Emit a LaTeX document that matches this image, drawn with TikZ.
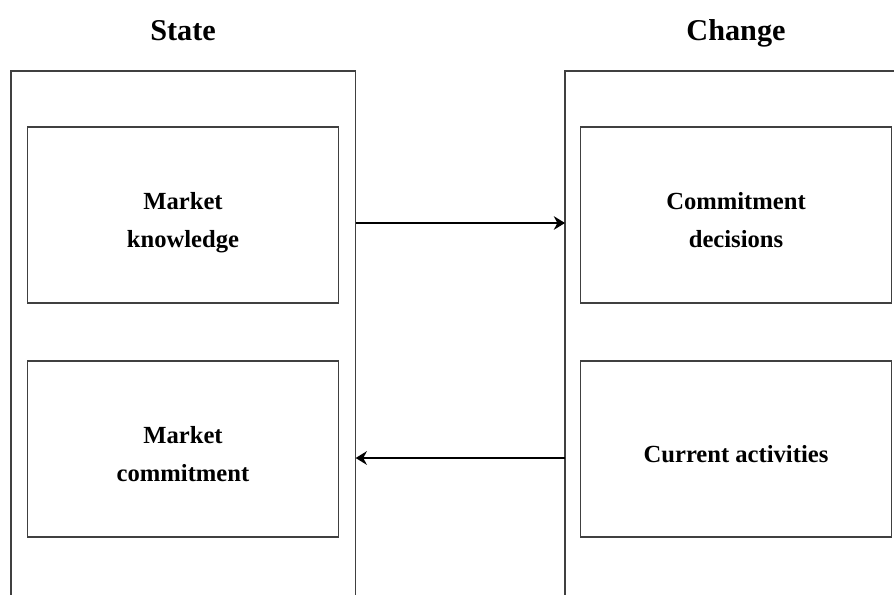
\documentclass[tikz,border=0pt]{standalone}
\usepackage{fontspec}
\setmainfont{Liberation Serif}
\usepackage{tikz}
\usetikzlibrary{arrows.meta,calc,positioning}
\tikzset{
  frame/.style={draw=none, minimum width=8.6cm, minimum height=15cm, inner sep=0pt},
  block/.style={draw=black!75, line width=0.9pt, fill=white, minimum width=7.775cm, minimum height=4.4cm, align=center, font=\fontsize{17.5}{27}\selectfont\bfseries},
  heading/.style={anchor=base, font=\fontsize{21.5}{26}\selectfont\bfseries},
  edge/.style={draw=black!75, line width=0.9pt},
  flow/.style={-{Stealth[length=2.8mm, width=3.4mm, inset=0.9mm]}, line width=1.4pt, black}
}
% text sits a little below the middle of each block
\newcommand{\blocktext}[1]{\raisebox{0pt}[\dimexpr\height+0.3cm\relax][\depth]{\begin{tabular}{@{}c@{}}#1\end{tabular}}}

\begin{document}
\begin{tikzpicture}[x=0.025cm,y=-0.025cm]
  \useasboundingbox (0,0) rectangle (894,594);

  \node[heading] (statehead) at (183,40) {State};
  \node[heading] (changehead) at (736,40) {Change};

  % outer frames, open at the bottom (and at the right for Change)
  \node[frame, anchor=north west] (stateframe) at (11,71) {};
  \node[frame, anchor=north west] (changeframe) at (565,71) {};
  \draw[edge] (stateframe.south west) |- (stateframe.north east) -- (stateframe.south east);
  \draw[edge] (changeframe.south west) |- (changeframe.north east);

  \node[block] (knowledge) at (183,215) {\blocktext{Market\\knowledge}};
  \node[block] (commitment) at (183,449) {\blocktext{Market\\commitment}};
  \node[block] (decisions) at (736,215) {\blocktext{Commitment\\decisions}};
  \node[block] (activities) at (736,449) {\blocktext{Current activities}};

  \draw[flow] (stateframe.east |- 0,223) -- (changeframe.west |- 0,223);
  \draw[flow] (changeframe.west |- 0,458) -- (stateframe.east |- 0,458);
\end{tikzpicture}
\end{document}
